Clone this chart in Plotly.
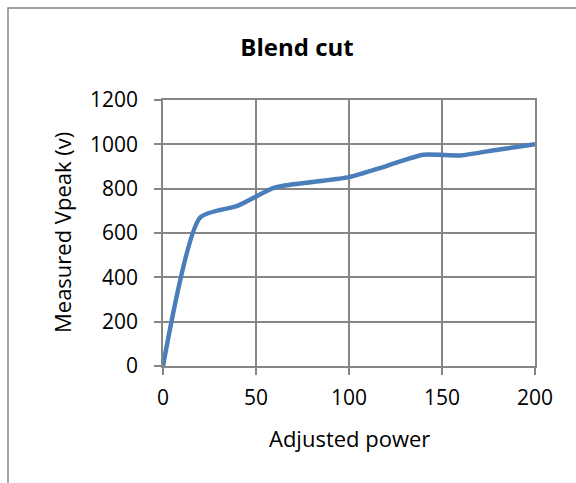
import plotly.graph_objects as go

# Blend cut: measured peak voltage vs adjusted power setting
power = [0, 20, 40, 60, 80, 100, 120, 140, 160, 180, 200]
vpeak = [0, 670, 722, 805, 830, 852, 902, 953, 950, 976, 1000]

x_ticks = [0, 50, 100, 150, 200]
y_ticks = [0, 200, 400, 600, 800, 1000, 1200]

W, H = 576, 483
font = "Open Sans, Lato, sans-serif"

fig = go.Figure()
fig.add_trace(go.Scatter(x=power, y=vpeak, mode="lines",
                         line=dict(color="#4A7EBB", width=4.5, shape="spline", smoothing=0.6),
                         showlegend=False, hoverinfo="x+y"))

axis_style = dict(showgrid=True, gridcolor="#868686", gridwidth=1.5,
                  showline=True, linecolor="#868686", linewidth=1.5,
                  ticks="outside", ticklen=7, tickcolor="#868686", tickwidth=1.5,
                  tickfont=dict(family=font, size=21, color="black"),
                  zeroline=False, mirror=True)

fig.update_xaxes(range=[0, 200], tickvals=x_ticks, ticklabelstandoff=5, **axis_style)
fig.update_yaxes(range=[0, 1200], tickvals=y_ticks, ticklabelstandoff=12, **axis_style)

fig.update_layout(
    width=W, height=H,
    margin=dict(l=163, r=41, t=100, b=117),
    paper_bgcolor="white", plot_bgcolor="white",
    title=dict(text="<b>Blend cut</b>", font=dict(family=font, size=24, color="black"),
               xref="container", yref="container", x=297 / W, y=1 - 48 / H,
               xanchor="center", yanchor="middle"),
    shapes=[dict(type="rect", xref="paper", yref="paper", layer="below",
                 x0=(8 - 163) / 372, x1=(600 - 163) / 372,
                 y0=(366 - 520) / 266, y1=(366 - 8) / 266,
                 line=dict(color="#868686", width=1.5))],
    annotations=[
        dict(text="Adjusted power", xref="paper", yref="paper", x=0.5, y=(366 - 438) / 266,
             showarrow=False, xanchor="center", yanchor="middle",
             font=dict(family=font, size=22, color="black")),
        dict(text="Measured Vpeak (v)", xref="paper", yref="paper", x=(62 - 163) / 372, y=0.5,
             textangle=-90, showarrow=False, xanchor="center", yanchor="middle",
             font=dict(family=font, size=22, color="black")),
    ],
)

# drop the browser's default 8px body margin so the figure sits at the page corner
fig.write_html("out.html", config={"displayModeBar": False},
               post_script="document.body.style.margin='0';")
